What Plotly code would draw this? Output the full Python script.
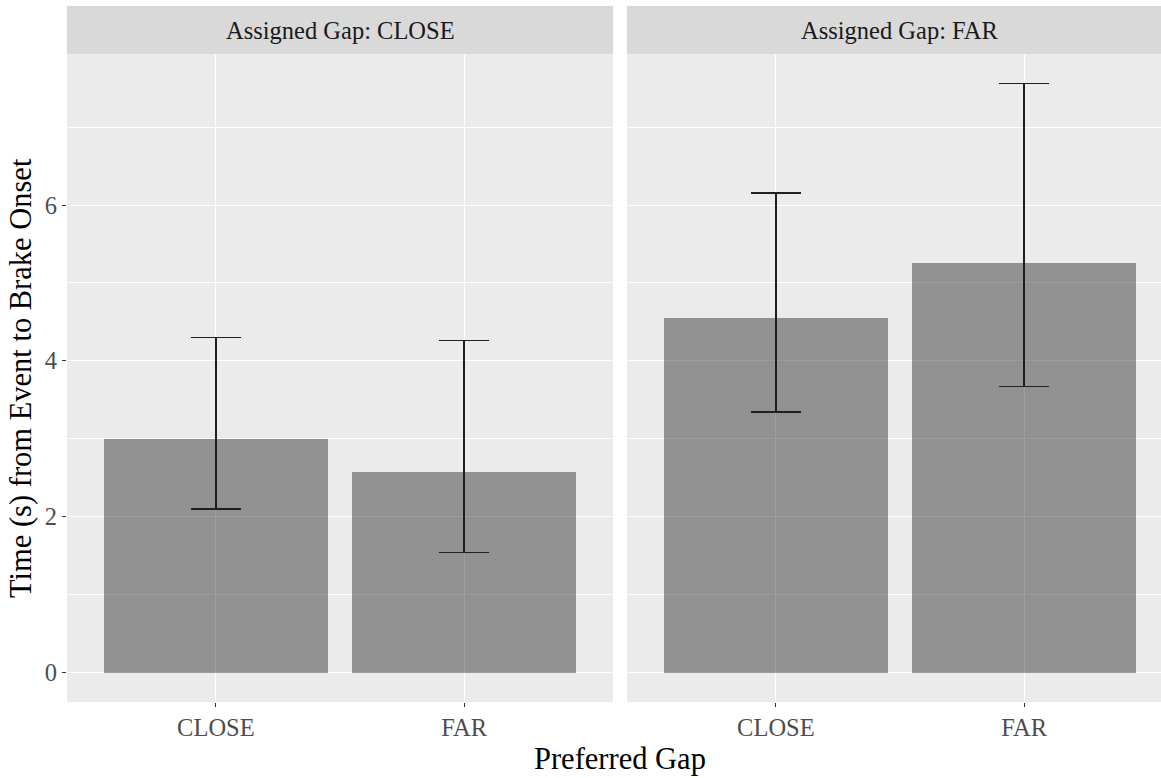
import plotly.graph_objects as go

preferred_gap = ["CLOSE", "FAR"]
panel_titles = ["Assigned Gap: CLOSE", "Assigned Gap: FAR"]

mean_close = [3.00, 2.58]
lower_close = [2.10, 1.54]
upper_close = [4.30, 4.26]

mean_far = [4.55, 5.26]
lower_far = [3.34, 3.67]
upper_far = [6.15, 7.56]

y_ticks = [0, 2, 4, 6]

W, H = 1161, 778
ML, MR, MT, MB = 67, 0, 6, 76
PW = W - ML - MR
PH = H - MT - MB
STRIP = 48
FONT = "Liberation Serif"
TICK_SIZE = 24.5
TITLE_SIZE = 30.5

fig = go.Figure()

panels = [(mean_close, lower_close, upper_close), (mean_far, lower_far, upper_far)]
for i, (m, lo, up) in enumerate(panels):
    ax = "" if i == 0 else "2"
    fig.add_trace(go.Bar(
        x=preferred_gap, y=m, width=0.9,
        marker=dict(color="rgba(0,0,0,0.383)", line=dict(width=0)),
        error_y=dict(type="data", symmetric=False,
                     array=[u - v for u, v in zip(up, m)],
                     arrayminus=[v - l for v, l in zip(m, lo)],
                     color="#1f1f1f", thickness=1.7, width=25),
        xaxis="x" + ax, yaxis="y" + ax, showlegend=False,
    ))

ymax = max(upper_close + upper_far)
pad = ymax * 0.05
yrange = [-pad, ymax + pad]

px_per_unit = 546 / 2.2
x2_end = -0.6 + (W - 627) / px_per_unit

common_x = dict(type="category", showgrid=True, gridcolor="white", gridwidth=1.4,
                ticks="outside", ticklen=4, tickcolor="#333333", tickwidth=1.2,
                tickfont=dict(family=FONT, size=TICK_SIZE, color="#4D4D4D"),
                showline=False, zeroline=False)
common_y = dict(range=yrange, showgrid=True, gridcolor="white", gridwidth=1.4,
                tickvals=y_ticks, zeroline=False, showline=False,
                minor=dict(dtick=1, tick0=0, showgrid=True, gridcolor="white", gridwidth=0.7),
                domain=[0, (PH - STRIP) / PH])

fig.update_layout(
    width=W, height=H,
    margin=dict(l=ML, r=MR, t=MT, b=MB),
    paper_bgcolor="white", plot_bgcolor="#EBEBEB",
    bargap=0,
    xaxis=dict(common_x, domain=[0, 546 / PW], range=[-0.6, 1.6], anchor="y"),
    xaxis2=dict(common_x, domain=[560 / PW, 1], range=[-0.6, x2_end], anchor="y2"),
    yaxis=dict(common_y, anchor="x", ticks="outside", ticklen=4, tickcolor="#333333", tickwidth=1.2,
               tickfont=dict(family=FONT, size=TICK_SIZE, color="#4D4D4D")),
    yaxis2=dict(common_y, anchor="x2", matches="y", showticklabels=False, ticks=""),
)

sy0 = (PH - STRIP) / PH
for i, t in enumerate(panel_titles):
    ax = "x" if i == 0 else "x2"
    fig.add_shape(type="rect", xref=ax + " domain", yref="paper",
                  x0=0, x1=1, y0=sy0, y1=1, fillcolor="#D9D9D9", line=dict(width=0), layer="below")
    fig.add_annotation(text=t, xref=ax, yref="paper", x=0.5, y=(sy0 + 1) / 2,
                       xanchor="center", yanchor="middle", showarrow=False,
                       font=dict(family=FONT, size=TICK_SIZE, color="#1A1A1A"))

fig.add_annotation(text="Preferred Gap", xref="paper", yref="paper",
                   x=(620 - ML) / PW, y=-(759 - (H - MB)) / PH, xanchor="center", yanchor="middle",
                   showarrow=False, font=dict(family=FONT, size=TITLE_SIZE, color="black"))
fig.add_annotation(text="Time (s) from Event to Brake Onset", xref="paper", yref="paper",
                   x=(21 - ML) / PW, y=((PH - STRIP) / 2) / PH, xanchor="center", yanchor="middle",
                   textangle=-90, showarrow=False, font=dict(family=FONT, size=TITLE_SIZE, color="black"))

fig.write_html("out.html", config={"displayModeBar": False},
               post_script="document.body.style.margin='0';document.body.style.overflow='hidden';")
